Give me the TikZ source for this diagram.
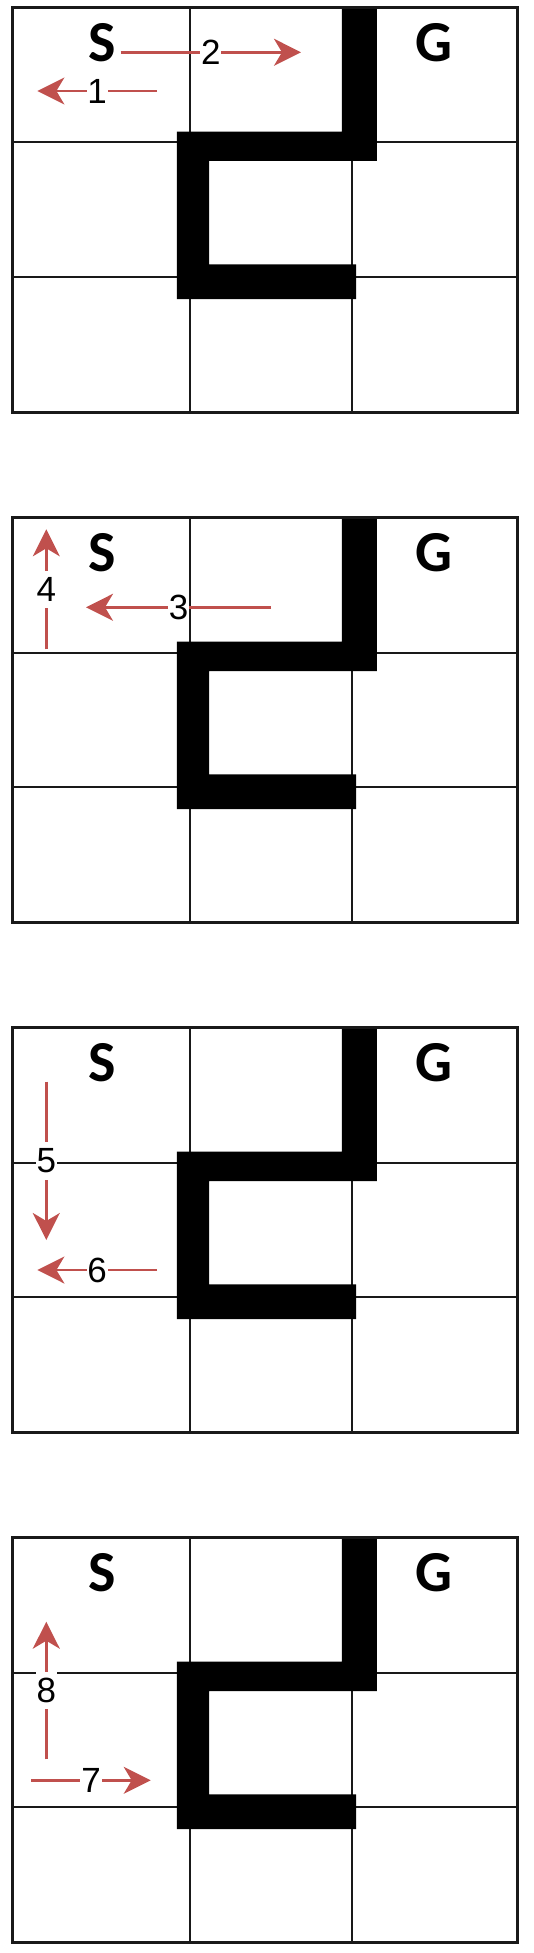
\documentclass[tikz,border=0pt]{standalone}
\usepackage{fontspec}
\setmainfont{Liberation Sans}
\newfontfamily\calib{Carlito}
\usetikzlibrary{arrows.meta}
\definecolor{arrred}{RGB}{192,80,77}
\begin{document}
\begin{tikzpicture}[x=1pt,y=-1pt,
  gridline/.style={line width=2pt,black!90},
  border/.style={line width=3pt,black!90},
  wall/.style={fill=black},
  arr/.style={arrred,line width=2.6pt,-{Stealth[length=27pt,width=27pt,inset=8pt]}},
  lbl/.style={fill=white,font=\fontsize{35}{35}\selectfont,inner xsep=0.8pt,inner ysep=6.5pt,text=black},
  letter/.style={font=\calib\bfseries\fontsize{58}{58}\selectfont,inner sep=0pt}
]
\useasboundingbox (0,0) rectangle (534,1953);
\foreach \i/\oy in {1/7.3,2/517.3,3/1027.3,4/1537.3}{
  \begin{scope}[shift={(0,\oy)}]
    % grid
    \draw[gridline] (189.8,0) -- (189.8,405.4);
    \draw[gridline] (352,0) -- (352,405.4);
    \draw[gridline] (12.9,135.2) -- (517,135.2);
    \draw[gridline] (12.9,269.7) -- (517,269.7);
    % wall
    \fill[wall] (341.8,0) -- (376.9,0) -- (376.9,153.7) -- (209.2,153.7)
      -- (209.2,257) -- (356,257) -- (356,291.7) -- (176.9,291.7)
      -- (176.9,124.4) -- (341.8,124.4) -- cycle;
    % border
    \draw[border] (12.9,0) rectangle (517,405.4);
    % letters
    \node[letter] (S\i) at (102,35.4) {S};
    \node[letter] (G\i) at (433.7,35.4) {G};
  \end{scope}
}
% panel 1
\coordinate (a1s) at (157,91);   \coordinate (a1e) at (37.4,91);
\coordinate (a2s) at (120.7,52.3); \coordinate (a2e) at (301,52.3);
\draw[arr] (a1s) -- node[lbl] (l1) {1} (a1e);
\draw[arr] (a2s) -- node[lbl] (l2) {2} (a2e);
% panel 2
\coordinate (a3s) at (271,607.3);  \coordinate (a3e) at (86,607.3);
\coordinate (a4s) at (46.3,649.3); \coordinate (a4e) at (46.3,529.3);
\draw[arr] (a3s) -- node[lbl] (l3) {3} (a3e);
\draw[arr] (a4s) -- node[lbl] (l4) {4} (a4e);
% panel 3
\coordinate (a5s) at (46.3,1081.7); \coordinate (a5e) at (46.3,1240);
\coordinate (a6s) at (157,1270);    \coordinate (a6e) at (37.4,1270);
\draw[arr] (a5s) -- node[lbl] (l5) {5} (a5e);
\draw[arr] (a6s) -- node[lbl] (l6) {6} (a6e);
% panel 4
\coordinate (a8s) at (46.3,1759.3); \coordinate (a8e) at (46.3,1621.7);
\coordinate (a7s) at (31.3,1780.3); \coordinate (a7e) at (150.7,1780.3);
\draw[arr] (a8s) -- node[lbl] (l8) {8} (a8e);
\draw[arr] (a7s) -- node[lbl] (l7) {7} (a7e);
\end{tikzpicture}
\end{document}
